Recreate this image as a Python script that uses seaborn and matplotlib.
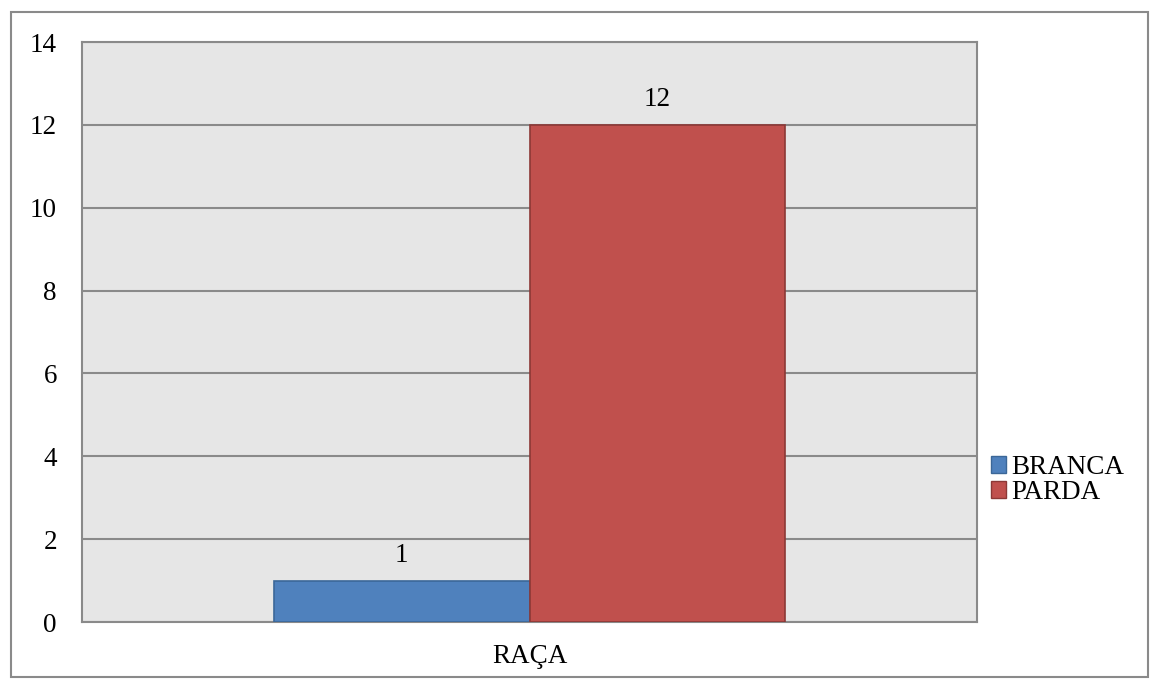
import matplotlib
matplotlib.use("Agg")
import matplotlib.pyplot as plt
import seaborn as sns
import pandas as pd
from matplotlib.patches import Rectangle

categories = ["RAÇA", "RAÇA"]
groups = ["BRANCA", "PARDA"]
values = [1, 12]
y_ticks = [0, 2, 4, 6, 8, 10, 12, 14]

df = pd.DataFrame({"cat": categories, "grupo": groups, "n": values})

sns.set_style("white")
plt.rcParams["font.family"] = ["Liberation Serif", "DejaVu Serif"]
plt.rcParams["text.color"] = "black"
plt.rcParams["xtick.color"] = "black"
plt.rcParams["ytick.color"] = "black"

fig = plt.figure(figsize=(11.51, 6.8), dpi=100)
ax = fig.add_axes([82 / 1151, 58 / 680, 895 / 1151, 580 / 680])
ax.set_facecolor("#e6e6e6")

sns.barplot(data=df, x="cat", y="n", hue="grupo",
            palette=["#4f81bd", "#c0504d"], width=0.572,
            saturation=1, ax=ax, zorder=3)
edges = ["#3b6798", "#8c3836"]
for cont, ec in zip(ax.containers, edges):
    for b in cont:
        b.set_edgecolor(ec)
        b.set_linewidth(1.2)
    ax.bar_label(cont, padding=9, fontsize=19.5)

ax.set_xlim(-0.5, 0.5)
ax.set_ylim(0, 14)
ax.set_yticks(y_ticks)
ax.yaxis.grid(True, color="#8a8a8a", linewidth=1.5, zorder=0)
ax.set_axisbelow(True)
ax.tick_params(axis="both", length=0, labelsize=19.5)
ax.tick_params(axis="y", pad=18)
ax.tick_params(axis="x", pad=16)
ax.set_xlabel("")
ax.set_ylabel("")
for s in ax.spines.values():
    s.set_color("#8a8a8a")
    s.set_linewidth(1.5)

leg = ax.legend(loc="center left", bbox_to_anchor=(0.84, 0.294),
                bbox_transform=fig.transFigure, frameon=False,
                fontsize=19.5, handlelength=0.55, handleheight=0.55,
                handletextpad=0.2, labelspacing=0.0)
for h, ec in zip(leg.legend_handles, edges):
    h.set_edgecolor(ec)

fig.patches.append(Rectangle((11 / 1151, 3 / 680), 1137 / 1151, 665 / 680,
                             transform=fig.transFigure, fill=False,
                             edgecolor="#8a8a8a", linewidth=1.5))

fig.savefig("out.png", dpi=100)
